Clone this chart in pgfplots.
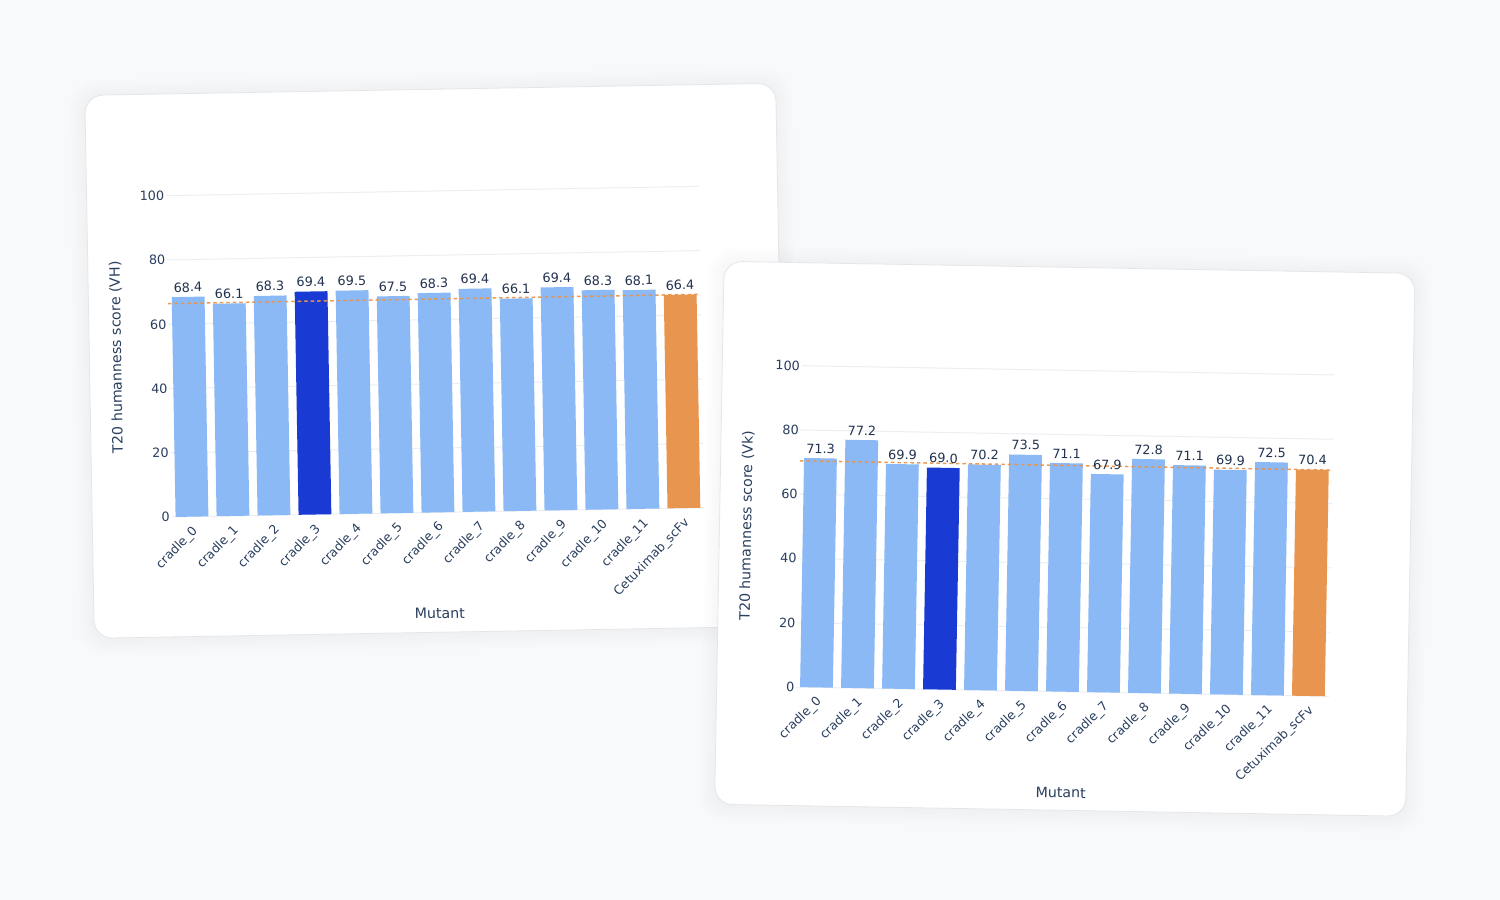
\documentclass[border=0pt]{standalone}
\usepackage{pgfplots}
\pgfplotsset{compat=1.18}
\usepackage{fontspec}
\setmainfont{DejaVu Sans}
\definecolor{bg}{HTML}{F8F9FA}
\definecolor{lightbar}{HTML}{8AB9F6}
\definecolor{darkbar}{HTML}{1A3BD3}
\definecolor{orangebar}{HTML}{E8964F}
\definecolor{txt}{HTML}{2A3F5F}
\definecolor{valtxt}{HTML}{22324F}
\definecolor{gridc}{HTML}{EBEEF3}
\definecolor{cardborder}{HTML}{E4E6EA}

\pgfplotsset{
  cardaxis/.style={
    scale only axis, width=533bp, height=321.4bp, anchor=south west,
    xmin=-0.5, xmax=12.5, ymin=0, ymax=100,
    clip=false,
    axis line style={draw=none},
    major tick length=0pt,
    ytick={0,20,...,100},
    ymajorgrids, grid style={gridc, line width=1bp},
    xtick={0,...,12},
    xticklabels={cradle\_0,cradle\_1,cradle\_2,cradle\_3,cradle\_4,cradle\_5,cradle\_6,cradle\_7,cradle\_8,cradle\_9,cradle\_10,cradle\_11,Cetuximab\_scFv},
    ticklabel style={font=\fontsize{12.8bp}{15bp}\selectfont, text=txt},
    yticklabel style={anchor=east, inner sep=0pt, xshift=-1.5bp},
    xticklabel style={inner sep=0pt, xshift=3.5bp, yshift=-12.5bp, rotate=45, anchor=east,
      font=\fontsize{12.5bp}{15bp}\selectfont},
    every axis y label/.style={at={(axis description cs:-0.0975,0.5)}, rotate=90, anchor=center,
      font=\fontsize{14.2bp}{17bp}\selectfont, text=txt},
    every axis x label/.style={at={(axis description cs:0.5,0)}, anchor=center, yshift=-101bp,
      font=\fontsize{14.2bp}{17bp}\selectfont, text=txt},
    xlabel={Mutant},
    /pgf/number format/assume math mode=true,
  },
  cardbar/.style={ybar, bar width=0.8, bar shift=0pt, draw=none, fill=#1,
    nodes near coords={\pgfmathprintnumber[fixed,fixed zerofill,precision=1]{\pgfplotspointmeta}},
    every node near coord/.append style={anchor=south, inner sep=0pt, yshift=4.5bp,
      font=\fontsize{12.8bp}{15bp}\selectfont, text=valtxt}},
  refline/.style={sharp plot, no marks, draw=orangebar, line width=1.5bp, dash pattern=on 3.5bp off 3bp, opacity=0.95},
}

\newcommand{\card}{%
  \foreach \k in {1,...,8} {
    \fill[black, opacity=0.005, rounded corners={18bp+\k bp}]
      ({-345.5bp-2*\k bp},{-271.5bp-2*\k bp-1bp}) rectangle ({345.5bp+2*\k bp},{271.5bp+2*\k bp-1bp});
  }
  \filldraw[fill=white, draw=cardborder, line width=0.8bp, rounded corners=18bp]
    (-345.5bp,-271.5bp) rectangle (345.5bp,271.5bp);
}

\begin{document}
\begin{tikzpicture}
\path[use as bounding box] (0,0) rectangle (1500bp,900bp);
\fill[bg] (0,0) rectangle (1500bp,900bp);

% ---------- left card (VH) ----------
\begin{scope}[shift={(435bp,539.2bp)}, rotate=1, transform shape]
\card
\begin{axis}[cardaxis, at={(-266.2bp,-151.6bp)}, ylabel={T20 humanness score (VH)}]
\addplot[cardbar=lightbar] coordinates {
  (0,68.4) (1,66.1) (2,68.3) (4,69.5) (5,67.5) (6,68.3) (7,69.4) (8,66.1) (9,69.4) (10,68.3) (11,68.1)};
\addplot[cardbar=darkbar] coordinates {(3,69.4)};
\addplot[cardbar=orangebar] coordinates {(12,66.4)};
\addplot[refline] coordinates {(-0.5,66.4) (12.5,66.4)};
\end{axis}
\end{scope}

% ---------- right card (Vk) ----------
\begin{scope}[shift={(1064.8bp,361.2bp)}, rotate=-1, transform shape]
\card
\begin{axis}[cardaxis, at={(-266.2bp,-152.9bp)}, ylabel={T20 humanness score (Vk)}]
\addplot[cardbar=lightbar] coordinates {
  (0,71.3) (1,77.2) (2,69.9) (4,70.2) (5,73.5) (6,71.1) (7,67.9) (8,72.8) (9,71.1) (10,69.9) (11,72.5)};
\addplot[cardbar=darkbar] coordinates {(3,69.0)};
\addplot[cardbar=orangebar] coordinates {(12,70.4)};
\addplot[refline] coordinates {(-0.5,70.4) (12.5,70.4)};
\end{axis}
\end{scope}
\end{tikzpicture}
\end{document}
